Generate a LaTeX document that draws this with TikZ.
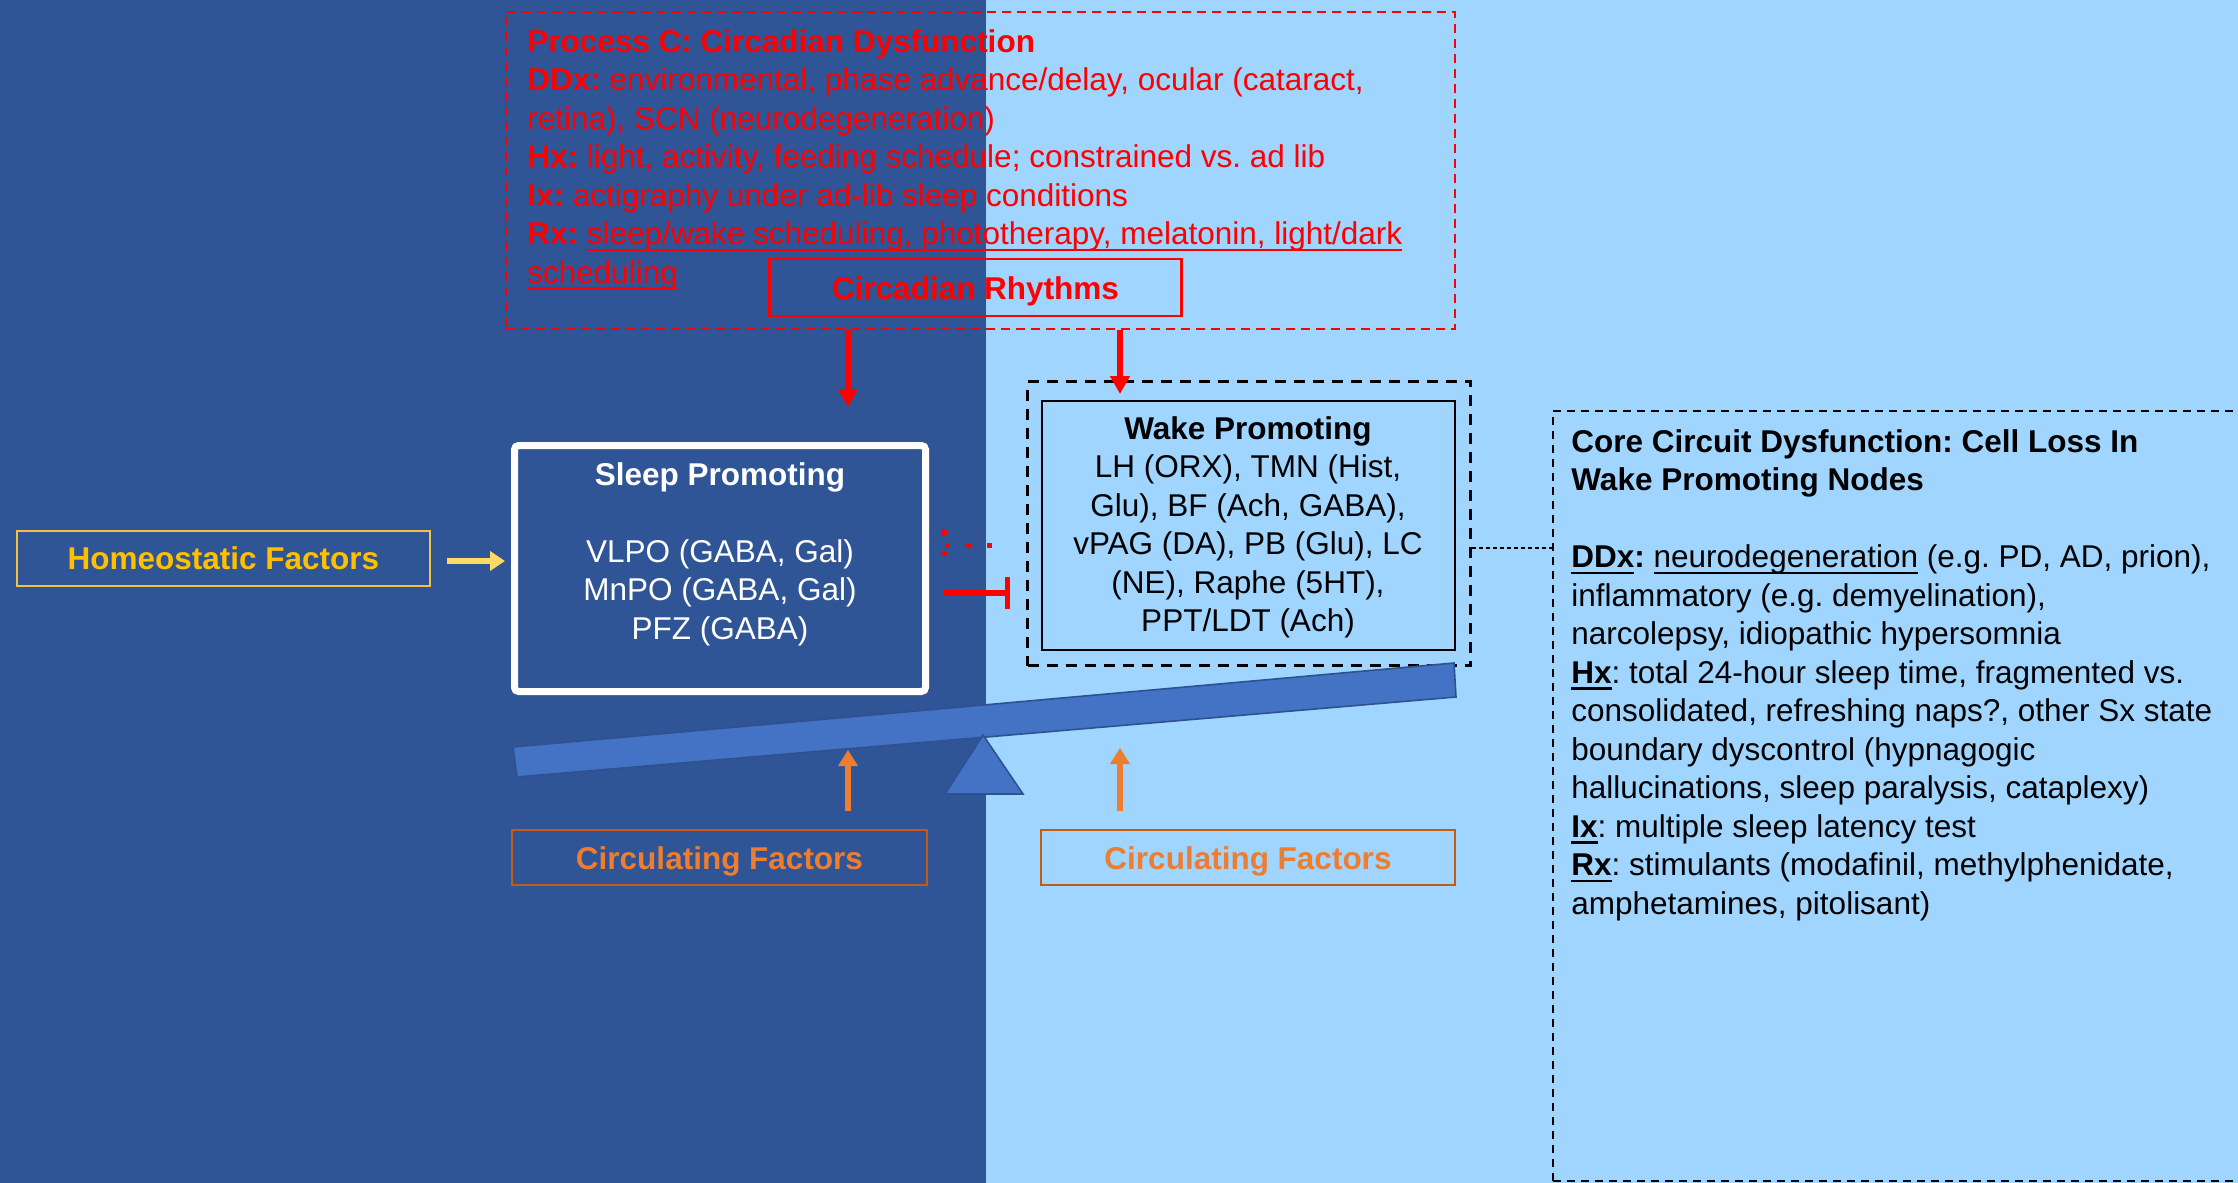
\documentclass[tikz,border=0pt]{standalone}
\usepackage{fontspec}
\setmainfont{Liberation Sans}
\usetikzlibrary{arrows.meta,calc}
\frenchspacing

\definecolor{nightblue}{HTML}{2F5597}
\definecolor{skyblue}{HTML}{9FD5FF}
\definecolor{beamblue}{HTML}{4472C4}
\definecolor{beamedge}{HTML}{2F528F}
\definecolor{goldtext}{HTML}{FFC000}
\definecolor{goldline}{HTML}{F4C142}
\definecolor{paleyellow}{HTML}{FFD966}
\definecolor{tangerine}{HTML}{ED7D31}
\definecolor{rust}{HTML}{C55A11}

% underline with a heavier rule, set a little below the baseline
\newcommand{\undr}[1]{\setbox0=\hbox{#1}\rlap{\vrule height -2pt depth 3.3pt width \wd0}\box0\relax}

\tikzset{
  txt/.style={font=\fontsize{15.75pt}{19.25pt}\selectfont, inner sep=0pt},
  boldtxt/.style={font=\fontsize{15.75pt}{19.25pt}\selectfont\bfseries, inner sep=0pt},
  redbox/.style={draw=red, line width=1pt, dash pattern=on 4.5pt off 3pt, rectangle, inner sep=0pt},
  ringbox/.style={draw=red, line width=1.2pt, rectangle, boldtxt, text=red, text height=12pt, text depth=0pt},
  sleepbox/.style={draw=white, line width=3.5pt, rounded corners=2pt, rectangle, inner sep=0pt},
  wakeouter/.style={draw=black, line width=1.5pt, dash pattern=on 5.5pt off 4pt, rectangle, inner sep=0pt},
  wakeinner/.style={draw=black, line width=1pt, rectangle, inner sep=0pt},
  homeobox/.style={draw=goldline, line width=1pt, rectangle, boldtxt, text=goldtext},
  circbox/.style={draw=rust, line width=1pt, rectangle, boldtxt, text=tangerine, text height=12.25pt, text depth=0pt},
  corebox/.style={draw=black, line width=1pt, dash pattern=on 4pt off 3pt, rectangle, inner sep=0pt},
  redarrow/.style={draw=red, line width=2.6pt, -{Triangle[length=9pt,width=9.5pt]}},
  orangearrow/.style={draw=tangerine, line width=3pt, -{Triangle[length=8pt,width=9.5pt]}},
  yellowarrow/.style={draw=paleyellow, line width=2.8pt, -{Triangle[length=7.5pt,width=9.5pt]}},
  inhibit/.style={draw=red, line width=2.6pt, -{Bar[width=16pt]}},
  dotinhibit/.style={draw=red, line width=2.5pt, dash pattern=on 2.5pt off 8pt},
  linkline/.style={draw=black, line width=0.6pt, dash pattern=on 2pt off 1.5pt},
  beam/.style={fill=beamblue, draw=beamedge, line width=0.8pt},
}

\begin{document}
\begin{tikzpicture}[x=0.5pt,y=-0.5pt]
\useasboundingbox (0,0) rectangle (2238,1183);

% two background halves
\fill[nightblue] (0,0) rectangle (986,1183);
\fill[skyblue] (986,0) rectangle (2238,1183);

% circadian dysfunction panel
\node[redbox, minimum width=474.5pt, minimum height=158.5pt] (procbox) at (980.5,170.5) {};
\node[txt, text=red, anchor=north west, align=left] (proctext) at (527,25)
  {\strut\textbf{Process C: Circadian Dysfunction}\\
   \textbf{DDx:} environmental, phase advance/delay, ocular (cataract,\\
   retina), SCN (neurodegeneration)\\
   \textbf{Hx:} light, activity, feeding schedule; constrained vs. ad lib\\
   \textbf{Ix:} actigraphy under ad-lib sleep conditions\\
   \textbf{Rx:} \undr{sleep/wake scheduling, phototherapy, melatonin, light/dark}\\
   \undr{scheduling}};
\node[ringbox, minimum width=206pt, minimum height=28.3pt] (circ) at (975.5,287.5) {Circadian Rhythms};

% sleep promoting block
\node[sleepbox, minimum width=205.5pt, minimum height=123pt] (sleep) at (720,568.5) {};
\node[txt, text=white, anchor=north, align=center] (sleeptext) at (720,458)
  {\strut\textbf{Sleep Promoting}\\
   \strut\\
   VLPO (GABA, Gal)\\
   MnPO (GABA, Gal)\\
   PFZ (GABA)};

% wake promoting block
\node[wakeouter, minimum width=221.5pt, minimum height=142pt] (wakeout) at (1249,523.5) {};
\node[wakeinner, minimum width=206.5pt, minimum height=124.5pt] (wake) at (1248.5,525.5) {};
\node[txt, anchor=north, align=center] (waketext) at (1248,412)
  {\strut\textbf{Wake Promoting}\\
   LH (ORX), TMN (Hist,\\
   Glu), BF (Ach, GABA),\\
   vPAG (DA), PB (Glu), LC\\
   (NE), Raphe (5HT),\\
   PPT/LDT (Ach)};

% homeostatic input
\node[homeobox, minimum width=206.5pt, minimum height=27.5pt] (homeo) at (223.5,558.5) {Homeostatic Factors};

% circulating factors
\node[circbox, minimum width=207.5pt, minimum height=27.5pt] (circL) at (719.5,857.5) {Circulating Factors};
\node[circbox, minimum width=207pt, minimum height=27.5pt] (circR) at (1248,857.5) {Circulating Factors};

% core circuit dysfunction panel
\node[corebox, minimum width=348.5pt, minimum height=385pt] (core) at (1901.5,796) {};
\node[txt, anchor=north west, align=left] (coretext) at (1571,425)
  {\strut\textbf{Core Circuit Dysfunction: Cell Loss In}\\
   \textbf{Wake Promoting Nodes}\\
   \strut\\
   \textbf{\undr{DDx}:} \undr{neurodegeneration} (e.g. PD, AD, prion),\\
   inflammatory (e.g. demyelination),\\
   narcolepsy, idiopathic hypersomnia\\
   \textbf{\undr{Hx}}: total 24-hour sleep time, fragmented vs.\\
   consolidated, refreshing naps?, other Sx state\\
   boundary dyscontrol (hypnagogic\\
   hallucinations, sleep paralysis, cataplexy)\\
   \textbf{\undr{Ix}}: multiple sleep latency test\\
   \textbf{\undr{Rx}}: stimulants (modafinil, methylphenidate,\\
   amphetamines, pitolisant)};

% guide coordinates for the vertical connectors
\coordinate (lx) at (848,0);
\coordinate (rx) at (1120,0);
\coordinate (linky) at (0,548);

% circadian drive onto both blocks
\draw[redarrow] (procbox.south -| lx) -- ($(sleep.north -| lx)+(0,-35)$);
\draw[redarrow] (procbox.south -| rx) -- ($(wakeout.north -| rx)+(0,14)$);

% homeostatic drive
\draw[yellowarrow] ($(homeo.east)+(16,2.5)$) -- ($(sleep.west)+(-6,-7.5)$);

% mutual inhibition
\coordinate (inhA) at (944,593);
\coordinate (inhB) at (1010,593);
\draw[inhibit] (inhA) -- (inhB);
\coordinate (dotA) at (991.5,545);
\coordinate (dotB) at (944.5,545);
\draw[dotinhibit] (dotA) -- (dotB);
\draw[dotinhibit] (944,529.5) -- (944,556);

% link to the core panel
\draw[linkline] (wakeout.east |- linky) -- (core.west |- linky);

% balance beam and fulcrum
\filldraw[beam] (513,747) -- (1454,663) -- (1456,697) -- (517,777) -- cycle;
\filldraw[beam] (983,735) -- (1023,794) -- (945,794) -- cycle;

% circulating factors push on the beam
\draw[orangearrow] ($(circL.north -| lx)+(0,-18)$) -- (848,750);
\draw[orangearrow] ($(circR.north -| rx)+(0,-18)$) -- (1120,748);
\end{tikzpicture}
\end{document}
